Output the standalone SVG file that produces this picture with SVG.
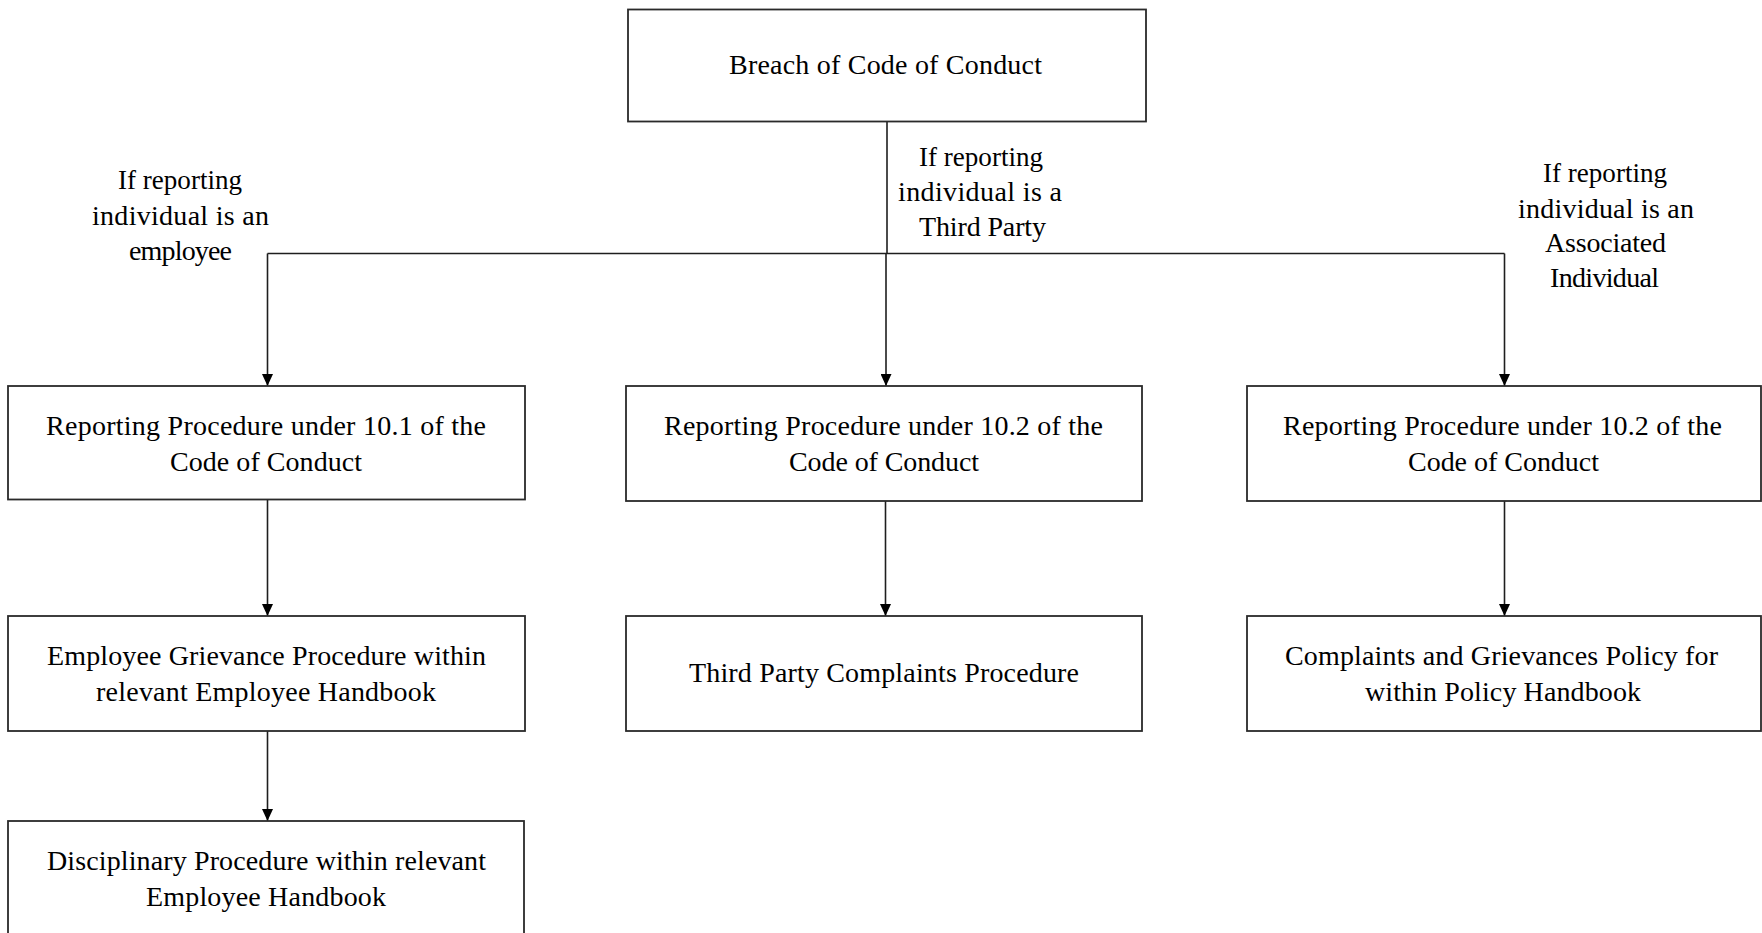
<svg xmlns="http://www.w3.org/2000/svg" width="1762" height="933" viewBox="0 0 1762 933">
<style>
.box{fill:#fff;stroke:#2a2a2a;stroke-width:1.8}
.t{font-family:"Liberation Serif","Times New Roman",serif;font-size:28px;fill:#000}
.c{fill:none;stroke:#1e1e1e;stroke-width:1.6}
</style>
<defs>
<marker id="ah" viewBox="0 0 12 11" refX="12" refY="5.5" markerWidth="12" markerHeight="11" markerUnits="userSpaceOnUse" orient="auto">
<path d="M0,0 L12,5.5 L0,11 z" fill="#000"/>
</marker>
</defs>
<rect width="1762" height="933" fill="#fff"/>
<g id="connectors">
<line class="c" x1="887" y1="122" x2="887" y2="253.5"/>
<line class="c" x1="267.5" y1="253.5" x2="1504.5" y2="253.5"/>
<line class="c" x1="267.5" y1="253.5" x2="267.5" y2="386" marker-end="url(#ah)"/>
<line class="c" x1="886" y1="253.5" x2="886" y2="386" marker-end="url(#ah)"/>
<line class="c" x1="1504.5" y1="253.5" x2="1504.5" y2="386" marker-end="url(#ah)"/>
<line class="c" x1="267.5" y1="499.5" x2="267.5" y2="616" marker-end="url(#ah)"/>
<line class="c" x1="267.5" y1="731" x2="267.5" y2="821" marker-end="url(#ah)"/>
<line class="c" x1="885.5" y1="501" x2="885.5" y2="616" marker-end="url(#ah)"/>
<line class="c" x1="1504.5" y1="501" x2="1504.5" y2="616" marker-end="url(#ah)"/>
</g>
<g id="labels">
<g id="label-employee">
<text class="t" x="118" y="189" textLength="124" lengthAdjust="spacingAndGlyphs">If reporting</text>
<text class="t" x="92" y="224.5" textLength="177" lengthAdjust="spacing">individual is an</text>
<text class="t" x="129" y="259.5" textLength="103" lengthAdjust="spacing">employee</text>
</g>
<g id="label-third">
<text class="t" x="919" y="166" textLength="124" lengthAdjust="spacingAndGlyphs">If reporting</text>
<text class="t" x="898" y="201" textLength="164" lengthAdjust="spacing">individual is a</text>
<text class="t" x="919" y="236" textLength="127" lengthAdjust="spacing">Third Party</text>
</g>
<g id="label-associated">
<text class="t" x="1543" y="182" textLength="124" lengthAdjust="spacingAndGlyphs">If reporting</text>
<text class="t" x="1518" y="217.5" textLength="176" lengthAdjust="spacing">individual is an</text>
<text class="t" x="1545" y="252" textLength="121" lengthAdjust="spacing">Associated</text>
<text class="t" x="1550" y="286.5" textLength="109" lengthAdjust="spacing">Individual</text>
</g>
</g>
<g id="n-breach">
<rect class="box" x="628" y="9.5" width="518" height="112"/>
<text class="t" x="729" y="74" textLength="313" lengthAdjust="spacing">Breach of Code of Conduct</text>
</g>
<g id="n-rep101">
<rect class="box" x="8" y="386" width="517" height="113.5"/>
<text class="t" x="46" y="435" textLength="440" lengthAdjust="spacing">Reporting Procedure under 10.1 of the</text>
<text class="t" x="170" y="470.5" textLength="192" lengthAdjust="spacing">Code of Conduct</text>
</g>
<g id="n-rep102-third">
<rect class="box" x="626" y="386" width="516" height="115"/>
<text class="t" x="664" y="435" textLength="439" lengthAdjust="spacing">Reporting Procedure under 10.2 of the</text>
<text class="t" x="789" y="470.5" textLength="190" lengthAdjust="spacing">Code of Conduct</text>
</g>
<g id="n-rep102-assoc">
<rect class="box" x="1247" y="386" width="514" height="115"/>
<text class="t" x="1283" y="435" textLength="439" lengthAdjust="spacing">Reporting Procedure under 10.2 of the</text>
<text class="t" x="1408" y="470.5" textLength="191" lengthAdjust="spacing">Code of Conduct</text>
</g>
<g id="n-grievance">
<rect class="box" x="8" y="616" width="517" height="115"/>
<text class="t" x="47" y="665" textLength="439" lengthAdjust="spacing">Employee Grievance Procedure within</text>
<text class="t" x="96" y="700.5" textLength="340" lengthAdjust="spacing">relevant Employee Handbook</text>
</g>
<g id="n-thirdparty">
<rect class="box" x="626" y="616" width="516" height="115"/>
<text class="t" x="689" y="681.5" textLength="390" lengthAdjust="spacing">Third Party Complaints Procedure</text>
</g>
<g id="n-complaints">
<rect class="box" x="1247" y="616" width="514" height="115"/>
<text class="t" x="1285" y="665" textLength="433" lengthAdjust="spacing">Complaints and Grievances Policy for</text>
<text class="t" x="1365" y="700.5" textLength="276" lengthAdjust="spacing">within Policy Handbook</text>
</g>
<g id="n-disciplinary">
<rect class="box" x="8" y="821" width="516" height="125"/>
<text class="t" x="47" y="870" textLength="439" lengthAdjust="spacing">Disciplinary Procedure within relevant</text>
<text class="t" x="146" y="906" textLength="240" lengthAdjust="spacing">Employee Handbook</text>
</g>
</svg>
